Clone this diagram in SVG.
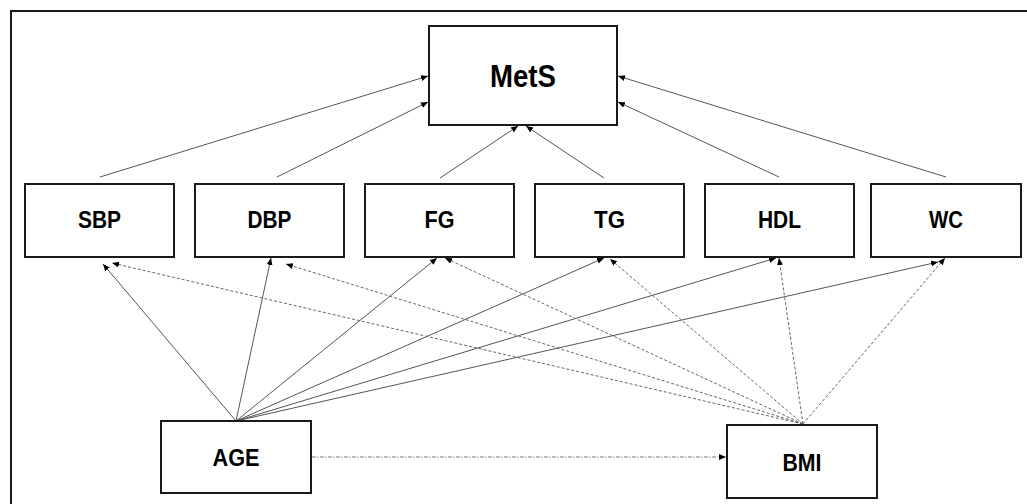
<svg xmlns="http://www.w3.org/2000/svg" width="1027" height="504" viewBox="0 0 1027 504">
<style>
.box{fill:#fff;stroke:#1a1a1a;stroke-width:2}
.lbl{font-family:"Liberation Sans",Arial,sans-serif;font-weight:bold;font-size:23px;fill:#000;text-anchor:middle}
.big{font-size:31px}
.sol{fill:none;stroke:#555;stroke-width:1;marker-end:url(#ah)}
.dsh{fill:none;stroke:#666;stroke-width:1;stroke-dasharray:3 2;marker-end:url(#ah)}
.dd{fill:none;stroke:#777;stroke-width:1;stroke-dasharray:4 1.5 1 1.5;marker-end:url(#ah)}
</style>
<defs>
<marker id="ah" markerUnits="userSpaceOnUse" markerWidth="8" markerHeight="8" refX="7" refY="3" orient="auto">
<path d="M0,0 L7,3 L0,6 Z" fill="#000"/>
</marker>
</defs>
<rect width="1027" height="504" fill="#fff"/>
<path d="M11,504 L11,11 L1027,11" fill="none" stroke="#1a1a1a" stroke-width="2"/>
<g id="connectors">
<line class="sol" x1="100" y1="177" x2="428" y2="76"/>
<line class="sol" x1="277" y1="177" x2="428" y2="102"/>
<line class="sol" x1="440" y1="178" x2="518" y2="126"/>
<line class="sol" x1="604" y1="178" x2="526" y2="126"/>
<line class="sol" x1="779" y1="177" x2="618" y2="102"/>
<line class="sol" x1="946" y1="177" x2="618" y2="76"/>
<line class="sol" x1="236" y1="421" x2="103" y2="264"/>
<line class="sol" x1="236" y1="421" x2="271" y2="258"/>
<line class="sol" x1="236" y1="421" x2="437" y2="258"/>
<line class="sol" x1="236" y1="421" x2="604" y2="258"/>
<line class="sol" x1="236" y1="421" x2="776" y2="258"/>
<line class="sol" x1="236" y1="421" x2="938" y2="262"/>
<line class="dsh" x1="803" y1="424" x2="112" y2="263"/>
<line class="dsh" x1="803" y1="424" x2="286" y2="264"/>
<line class="dsh" x1="803" y1="424" x2="445" y2="258"/>
<line class="dsh" x1="803" y1="424" x2="610" y2="259"/>
<line class="dsh" x1="803" y1="424" x2="779" y2="258"/>
<line class="dsh" x1="803" y1="424" x2="945" y2="258"/>
<line class="dd" x1="312" y1="457" x2="726" y2="457"/>
</g>
<g id="MetS"><rect class="box" x="429" y="26" width="188" height="99"/><text class="lbl big" x="523" y="87" textLength="66" lengthAdjust="spacingAndGlyphs">MetS</text></g>
<g id="SBP"><rect class="box" x="25" y="184" width="149" height="73"/><text class="lbl" x="99.5" y="228" textLength="43" lengthAdjust="spacingAndGlyphs">SBP</text></g>
<g id="DBP"><rect class="box" x="195" y="184" width="149" height="73"/><text class="lbl" x="269.5" y="228" textLength="44" lengthAdjust="spacingAndGlyphs">DBP</text></g>
<g id="FG"><rect class="box" x="365" y="184" width="149" height="73"/><text class="lbl" x="439.5" y="228" textLength="30" lengthAdjust="spacingAndGlyphs">FG</text></g>
<g id="TG"><rect class="box" x="535" y="184" width="149" height="73"/><text class="lbl" x="609.5" y="228" textLength="31" lengthAdjust="spacingAndGlyphs">TG</text></g>
<g id="HDL"><rect class="box" x="705" y="184" width="149" height="73"/><text class="lbl" x="779.5" y="228" textLength="43" lengthAdjust="spacingAndGlyphs">HDL</text></g>
<g id="WC"><rect class="box" x="871" y="184" width="150" height="73"/><text class="lbl" x="946" y="228" textLength="34" lengthAdjust="spacingAndGlyphs">WC</text></g>
<g id="AGE"><rect class="box" x="161" y="421" width="150" height="72"/><text class="lbl" x="236" y="466" textLength="47" lengthAdjust="spacingAndGlyphs">AGE</text></g>
<g id="BMI"><rect class="box" x="727" y="425" width="150" height="73"/><text class="lbl" x="802" y="471" textLength="39" lengthAdjust="spacingAndGlyphs">BMI</text></g>
</svg>
